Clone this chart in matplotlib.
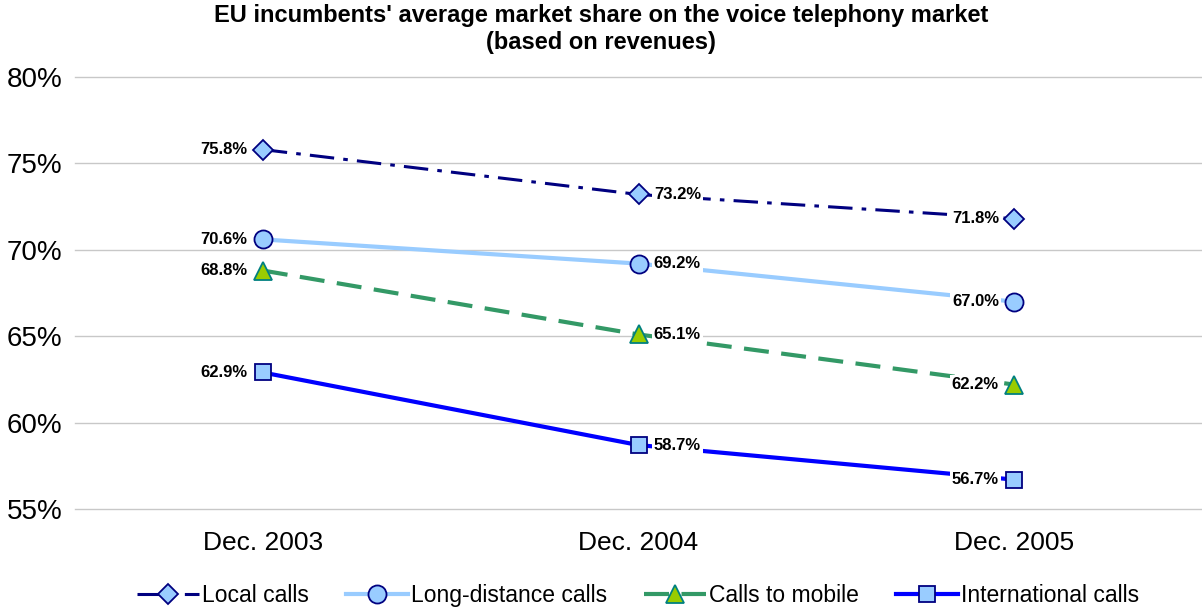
import matplotlib
matplotlib.use("Agg")
import matplotlib.pyplot as plt
from matplotlib.ticker import FuncFormatter

plt.rcParams['font.family'] = ['Liberation Sans', 'DejaVu Sans']

categories = ["Dec. 2003", "Dec. 2004", "Dec. 2005"]
local_calls = [75.8, 73.2, 71.8]
long_distance = [70.6, 69.2, 67.0]
calls_to_mobile = [68.8, 65.1, 62.2]
international = [62.9, 58.7, 56.7]
yticks = [55, 60, 65, 70, 75, 80]

fig = plt.figure(figsize=(12.02, 6.12), dpi=100)
ax = fig.add_axes([0.0624, 0.1683, 0.9376, 0.7059])

x = list(range(len(categories)))
series = [
    ("Local calls", local_calls, dict(color="#000080", lw=2.2, ls=(0, (8, 3, 1.5, 3)), marker="D", ms=10,
                                      mfc="#99ccff", mec="#000080", mew=1.3)),
    ("Long-distance calls", long_distance, dict(color="#99ccff", lw=3, ls="-", marker="o", ms=13,
                                                mfc="#99ccff", mec="#000080", mew=1.3)),
    ("Calls to mobile", calls_to_mobile, dict(color="#339966", lw=3, ls=(0, (6, 3)), marker="^", ms=13,
                                               mfc="#99cc00", mec="#008080", mew=1.3)),
    ("International calls", international, dict(color="#0000ff", lw=3, ls="-", marker="s", ms=12,
                                                 mfc="#99ccff", mec="#000080", mew=1.3)),
]

for name, vals, st in series:
    ax.plot(x, vals, label=name, zorder=3, **st)
    for xi, v in zip(x, vals):
        right = (xi == 1)
        ax.annotate(f"{v:.1f}%", (xi, v), xytext=(11 if right else -11, 0), textcoords="offset points",
                    ha="left" if right else "right", va="center", fontsize=12, fontweight="bold",
                    bbox=dict(facecolor="white", edgecolor="none", pad=1.5), zorder=4)

ax.set_xlim(-0.5, 2.5)
ax.set_ylim(55, 80)
ax.set_yticks(yticks)
ax.yaxis.set_major_formatter(FuncFormatter(lambda v, p: f"{v:.0f}%"))
ax.set_xticks(x)
ax.set_xticklabels(categories)
ax.tick_params(axis="y", length=0, labelsize=20, pad=9)
ax.tick_params(axis="x", length=0, labelsize=19, pad=16)
ax.grid(axis="y", color="#c8c8c8", lw=1)
for gl in ax.get_ygridlines():
    gl.set_clip_on(False)
ax.set_axisbelow(True)
for s in ax.spines.values():
    s.set_visible(False)

fig.text(0.5, 0.993, "EU incumbents' average market share on the voice telephony market\n(based on revenues)",
         ha="center", va="top", fontsize=17, fontweight="bold", linespacing=1.2)

fig.legend(loc="lower center", bbox_to_anchor=(0.531, -0.025), ncol=4, frameon=False, fontsize=16.5,
           handlelength=2.7, columnspacing=1.6, handletextpad=0.15)

fig.savefig("out.png", dpi=100)
